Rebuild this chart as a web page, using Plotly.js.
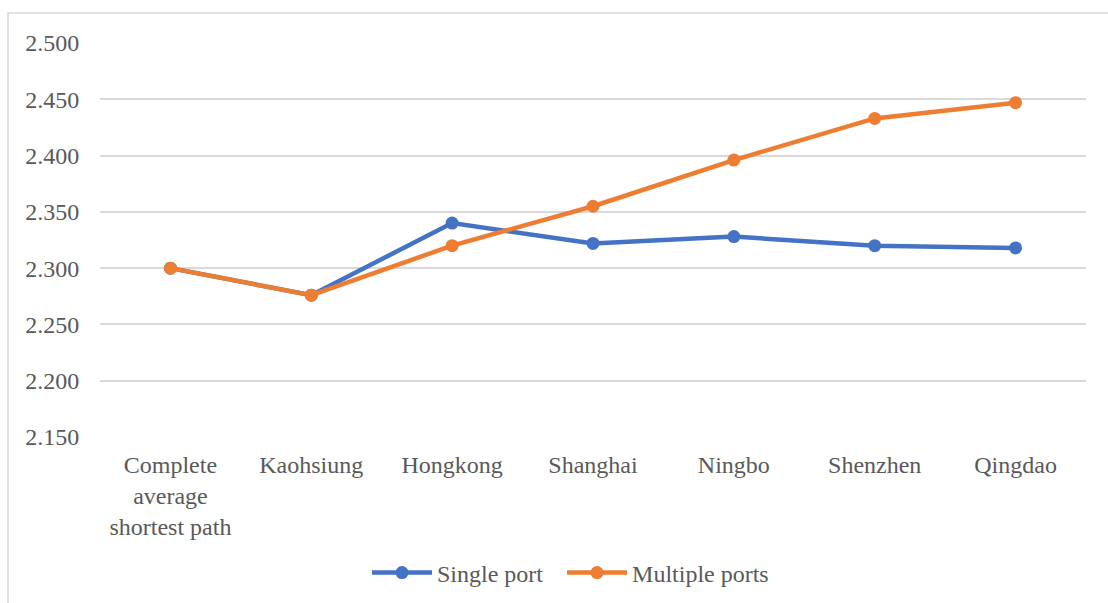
<!DOCTYPE html>
<html>
<head>
<meta charset="utf-8">
<script src="https://cdn.plot.ly/plotly-3.0.1.min.js"></script>
<style>html,body{margin:0;padding:0;background:#fff;}#chart{width:1108px;height:603px;}</style>
</head>
<body>
<div id="chart"></div>
<script>
const categories = ["Complete<br>average<br>shortest path", "Kaohsiung", "Hongkong", "Shanghai", "Ningbo", "Shenzhen", "Qingdao"];
const singlePort = [2.300, 2.276, 2.340, 2.322, 2.328, 2.320, 2.318];
const multiplePorts = [2.300, 2.276, 2.320, 2.355, 2.396, 2.433, 2.447];
const seriesNames = ["Single port", "Multiple ports"];
const yTicks = [2.150, 2.200, 2.250, 2.300, 2.350, 2.400, 2.450, 2.500];

const FONT = "Liberation Serif, Times New Roman, serif";
const traces = [
  {x: categories, y: singlePort, name: seriesNames[0], type: "scatter", mode: "lines+markers",
   legend: "legend",
   line: {color: "#4472C4", width: 4.5}, marker: {color: "#4472C4", size: 13}},
  {x: categories, y: multiplePorts, name: seriesNames[1], type: "scatter", mode: "lines+markers",
   legend: "legend2",
   line: {color: "#ED7D31", width: 4.5}, marker: {color: "#ED7D31", size: 13}}
];

const legendBase = {orientation: "h", y: -0.345, yanchor: "middle", xanchor: "left",
  font: {family: FONT, size: 24, color: "#595959"}, itemwidth: 60, bgcolor: "rgba(0,0,0,0)"};

const layout = {
  width: 1108, height: 603,
  margin: {l: 100, r: 22, t: 43, b: 166, autoexpand: false},
  paper_bgcolor: "#fff", plot_bgcolor: "#fff",
  font: {family: FONT, size: 24, color: "#595959"},
  showlegend: true,
  legend: Object.assign({}, legendBase, {x: 0.2708}),
  legend2: Object.assign({}, legendBase, {x: 0.4686}),
  xaxis: {type: "category", showgrid: false, zeroline: false, showline: false,
          ticks: "outside", ticklen: 6, tickcolor: "rgba(0,0,0,0)",
          tickfont: {family: FONT, size: 24, color: "#595959"}, range: [-0.5, 6.5]},
  yaxis: {range: [2.15, 2.5], tickvals: yTicks, tickformat: ".3f", showgrid: true,
          gridcolor: "#d9d9d9", gridwidth: 1.5, zeroline: false, showline: false,
          ticks: "outside", ticklen: 15, tickcolor: "rgba(0,0,0,0)",
          tickfont: {family: FONT, size: 24, color: "#595959"}},
  shapes: [{type: "rect", xref: "paper", yref: "paper",
            x0: -0.0933, x1: 1.03, y0: -0.44, y1: 1.0761,
            line: {color: "#d9d9d9", width: 1.5}, fillcolor: "rgba(0,0,0,0)", layer: "below"}]
};

Plotly.newPlot("chart", traces, layout, {displayModeBar: false, responsive: false});
</script>
</body>
</html>
